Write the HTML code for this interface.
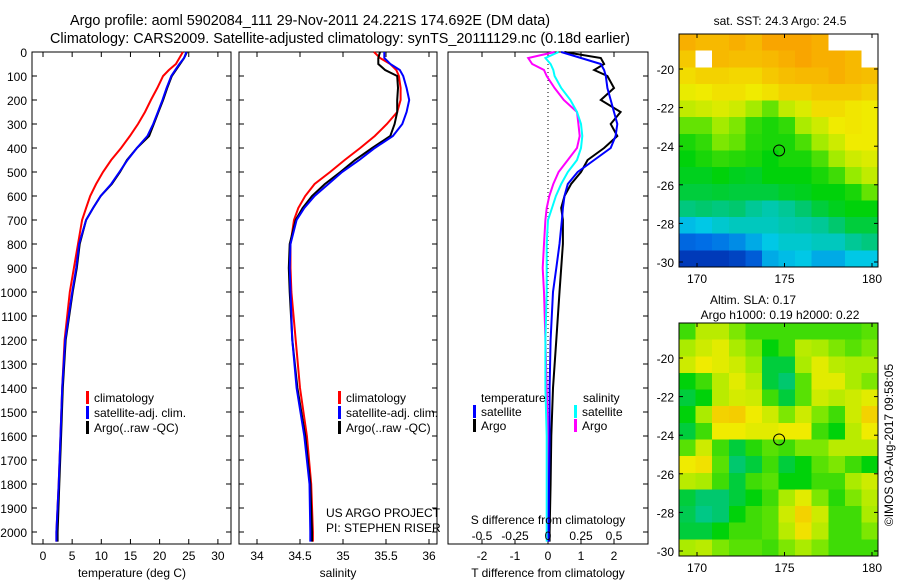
<!DOCTYPE html>
<html><head><meta charset="utf-8"><style>
body{margin:0;background:#fff;}
svg{display:block;font-family:"Liberation Sans",sans-serif;font-size:12px;}
</style></head><body>
<svg id="c" width="900" height="580" xmlns="http://www.w3.org/2000/svg">
<text x="310" y="25" text-anchor="middle" style="font-size:14.4px">Argo profile: aoml 5902084_111 29-Nov-2011 24.221S 174.692E (DM data)</text>
<text x="340" y="43" text-anchor="middle" style="font-size:14.4px">Climatology: CARS2009. Satellite-adjusted climatology: synTS_20111129.nc (0.18d earlier)</text>
</svg>
<script>
const depths=[0,25,50,75,100,150,200,250,300,350,400,450,500,550,600,650,700,800,900,1000,1200,1400,1600,1800,2000,2040];
const tArgo=[24.7,24.2,23.5,22.8,22.1,21.3,20.6,19.8,19.0,18.2,16.1,14.4,13.2,11.8,9.9,8.6,7.4,6.3,5.8,5.1,3.9,3.4,3.1,2.8,2.5,2.5];
const tSat=[24.6,24.2,23.4,22.7,22.0,21.2,20.5,19.7,18.9,17.9,16.1,14.5,13.1,11.7,9.9,8.6,7.4,6.2,5.7,5.0,3.8,3.3,3.0,2.7,2.3,2.3];
const tClim=[24.0,23.4,22.8,21.6,20.6,19.6,18.5,17.5,16.3,14.9,13.4,11.7,10.3,9.1,8.1,7.4,6.7,6.0,5.3,4.6,3.7,3.3,3.0,2.7,2.3,2.3];
const sArgo=[35.43,35.41,35.41,35.49,35.63,35.64,35.63,35.63,35.60,35.55,35.34,35.14,34.97,34.79,34.64,34.53,34.45,34.38,34.37,34.38,34.41,34.47,34.56,34.62,34.64,34.64];
const sSat=[35.48,35.48,35.55,35.66,35.70,35.74,35.77,35.74,35.69,35.58,35.37,35.19,34.99,34.83,34.67,34.55,34.46,34.39,34.38,34.39,34.41,34.46,34.55,34.61,34.62,34.62];
const sClim=[35.36,35.43,35.55,35.62,35.65,35.67,35.67,35.63,35.51,35.37,35.20,35.02,34.85,34.67,34.56,34.48,34.43,34.39,34.39,34.40,34.45,34.50,34.58,34.63,34.65,34.65];
const dtArgo=[0.5,1.6,1.7,1.4,1.8,2.0,1.6,2.2,1.9,2.1,1.7,1.2,1.0,0.7,0.5,0.4,0.45,0.45,0.4,0.35,0.25,0.15,0.1,0.08,0.05,0.05];
const dtSat=[0.4,1.0,1.6,1.7,1.75,1.8,1.9,2.0,2.1,2.05,1.9,1.4,0.9,0.6,0.5,0.45,0.42,0.35,0.25,0.15,0.08,0.05,0.05,0.03,0.02,0.02];
const dsSat=[0.08,-0.02,0.02,0.04,0.05,0.1,0.17,0.22,0.25,0.26,0.25,0.22,0.15,0.1,0.06,0.03,0.0,-0.01,-0.01,-0.01,-0.02,-0.02,-0.01,-0.01,-0.01,-0.01];
const dsArgo=[0.05,-0.15,-0.12,-0.03,-0.01,0.05,0.12,0.22,0.23,0.24,0.22,0.15,0.08,0.04,0.01,-0.01,-0.02,-0.03,-0.04,-0.03,-0.02,-0.01,0.0,0.0,0.0,0.0];
const depthTicks=[0,100,200,300,400,500,600,700,800,900,1000,1100,1200,1300,1400,1500,1600,1700,1800,1900,2000];
const tTicks=[0,5,10,15,20,25,30];
const sTicks=[34,34.5,35,35.5,36];
const dtTicks=[-2,-1,0,1,2];
const dsTicks=[-0.5,-0.25,0,0.25,0.5];
const dsTickLabels=["-0.5","-0.25","0","0.25","0.5"];
const sstGrid=[
[.97,.95,.95,.97,.95,.99,.99,.99,.97,-1,-1,-1],
[.92,-1,.95,.94,.94,.95,.97,.99,.97,.97,.95,-1],
[.88,.90,.90,.89,.89,.92,.94,.95,.95,.97,.95,.94],
[.84,.85,.87,.87,.85,.87,.90,.90,.92,.92,.92,.90],
[.78,.80,.82,.80,.74,.68,.78,.82,.88,.88,.86,.85],
[.68,.68,.74,.70,.64,.62,.64,.75,.80,.85,.86,.85],
[.62,.64,.70,.68,.63,.62,.62,.66,.74,.80,.85,.85],
[.60,.62,.64,.63,.62,.60,.62,.62,.66,.74,.80,.82],
[.58,.58,.60,.58,.57,.60,.60,.60,.62,.65,.72,.78],
[.55,.55,.56,.55,.55,.55,.57,.58,.60,.60,.62,.68],
[.48,.50,.48,.50,.45,.42,.45,.50,.55,.58,.60,.60],
[.33,.35,.38,.40,.40,.40,.42,.43,.45,.50,.55,.55],
[.18,.20,.22,.25,.30,.35,.38,.38,.40,.40,.45,.48],
[.05,.05,.05,.08,.15,.30,.33,.35,.30,.30,.35,.35]];
const slaGrid=[
[.6,.72,.72,.65,.6,.6,.6,.6,.6,.6,.6,.62],
[.7,.75,.78,.7,.65,.55,.6,.72,.7,.65,.62,.65],
[.75,.8,.78,.75,.68,.5,.5,.7,.78,.72,.7,.7],
[.55,.6,.72,.78,.72,.5,.45,.62,.78,.78,.7,.65],
[.5,.55,.72,.76,.75,.6,.5,.62,.75,.72,.75,.78],
[.55,.7,.85,.86,.8,.75,.65,.75,.65,.6,.75,.85],
[.5,.6,.8,.8,.78,.78,.8,.8,.6,.55,.72,.8],
[.62,.75,.6,.5,.58,.62,.6,.65,.65,.72,.72,.72],
[.8,.82,.62,.45,.5,.6,.5,.55,.62,.65,.6,.55],
[.72,.7,.6,.5,.6,.62,.55,.55,.6,.6,.7,.75],
[.5,.45,.45,.5,.55,.6,.7,.78,.65,.58,.65,.72],
[.48,.42,.45,.55,.6,.62,.75,.85,.75,.6,.6,.7],
[.5,.5,.55,.6,.6,.62,.72,.82,.72,.6,.6,.65],
[.7,.72,.65,.62,.62,.6,.65,.7,.65,.6,.6,.6]];
const lonTicks=[170,175,180];
const latTicks=[-20,-22,-24,-26,-28,-30];
const argoLon=174.692, argoLat=-24.221;

const NS="http://www.w3.org/2000/svg";
const svg=document.getElementById('c');
function mk(tag,attrs,parent){const e=document.createElementNS(NS,tag);for(const k in attrs)e.setAttribute(k,attrs[k]);(parent||svg).appendChild(e);return e;}
function txt(x,y,s,anchor,parent){const e=mk('text',{x:x,y:y,'text-anchor':anchor||'start'},parent);e.textContent=s;return e;}
const yD=d=>52+d*0.24;
const xT=t=>43+t*5.83;
const xS=s=>257+(s-34)*86;
const xDT=v=>548+v*33;
const xDS=v=>548+v*132;
const TOP=52,BOT=544;

function frame(x0,x1,name){
  const g=mk('g',{});
  
  
  mk('rect',{x:x0,y:TOP,width:x1-x0,height:BOT-TOP,fill:'none',stroke:'#000','stroke-width':1},g);
  return g;
}
function line(xs,fx,vals,color,name,g){
  const pts=vals.map((v,i)=>fx(v).toFixed(1)+','+yD(depths[i]).toFixed(1)).join(' ');
  const p=mk('polyline',{points:pts,fill:'none',stroke:color,'stroke-width':2},g);
  
  
}
const g1=frame(32,231,'temperature-panel');
depthTicks.forEach(d=>{const y=yD(d);mk('line',{x1:32,y1:y,x2:37,y2:y,stroke:'#000'},g1);mk('line',{x1:226,y1:y,x2:231,y2:y,stroke:'#000'},g1);
  const t=txt(27,y+5,String(d),'end',g1);});
tTicks.forEach(v=>{const x=xT(v);mk('line',{x1:x,y1:BOT,x2:x,y2:BOT-5,stroke:'#000'},g1);mk('line',{x1:x,y1:TOP,x2:x,y2:TOP+5,stroke:'#000'},g1);txt(x,560,String(v),'middle',g1);});
txt(132,577,'temperature (deg C)','middle',g1);
line(depths,xT,tClim,'#f00','temp-climatology-line',g1);
line(depths,xT,tArgo,'#000','temp-argo-line',g1);
line(depths,xT,tSat,'#00f','temp-satellite-line',g1);
const g2=frame(239,437,'salinity-panel');
depthTicks.forEach(d=>{const y=yD(d);mk('line',{x1:239,y1:y,x2:244,y2:y,stroke:'#000'},g2);mk('line',{x1:432,y1:y,x2:437,y2:y,stroke:'#000'},g2);});
sTicks.forEach(v=>{const x=xS(v);mk('line',{x1:x,y1:BOT,x2:x,y2:BOT-5,stroke:'#000'},g2);mk('line',{x1:x,y1:TOP,x2:x,y2:TOP+5,stroke:'#000'},g2);txt(x,560,String(v),'middle',g2);});
txt(338,577,'salinity','middle',g2);
line(depths,xS,sClim,'#f00','sal-climatology-line',g2);
line(depths,xS,sArgo,'#000','sal-argo-line',g2);
line(depths,xS,sSat,'#00f','sal-satellite-line',g2);
txt(326,517,'US ARGO PROJECT','start',g2);
txt(326,532,'PI: STEPHEN RISER','start',g2);
function leg(g,x,y,color,label){mk('rect',{x:x,y:y-11,width:3,height:13,fill:color},g);const t=txt(x+8,y,label,'start',g);return t;}
[[86,g1],[338,g2]].forEach(([x,g])=>{
  const lg=mk('g',{},g);
  leg(lg,x,402,'#f00','climatology');leg(lg,x,417,'#00f','satellite-adj. clim.');leg(lg,x,432,'#000','Argo(..raw -QC)');});
const g3=frame(448,648,'difference-panel');
depthTicks.forEach(d=>{const y=yD(d);mk('line',{x1:643,y1:y,x2:648,y2:y,stroke:'#000'},g3);});
mk('line',{x1:xDT(0),y1:TOP,x2:xDT(0),y2:BOT,stroke:'#000','stroke-dasharray':'1,3'},g3);
dtTicks.forEach(v=>{const x=xDT(v);mk('line',{x1:x,y1:BOT,x2:x,y2:BOT-5,stroke:'#000'},g3);mk('line',{x1:x,y1:TOP,x2:x,y2:TOP+5,stroke:'#000'},g3);txt(x,560,String(v),'middle',g3);});
line(depths,xDS,dsArgo,'#f0f','sdiff-argo-line',g3);
line(depths,xDS,dsSat,'#0ff','sdiff-satellite-line',g3);
line(depths,xDT,dtArgo,'#000','tdiff-argo-line',g3);
line(depths,xDT,dtSat,'#00f','tdiff-satellite-line',g3);
dsTicks.forEach((v,i)=>{txt(xDS(v),540,dsTickLabels[i],'middle',g3);});
txt(548,524,'S difference from climatology','middle',g3);
txt(548,577,'T difference from climatology','middle',g3);
const lg3=mk('g',{},g3);
txt(481,402,'temperature','start',lg3);txt(583,402,'salinity','start',lg3);
leg(lg3,473,416,'#00f','satellite');leg(lg3,473,430,'#000','Argo');
leg(lg3,574,416,'#0ff','satellite');leg(lg3,574,430,'#f0f','Argo');
function col(v){
  const stops=[[0,[0,40,170]],[0.2,[0,110,230]],[0.35,[0,200,230]],[0.5,[0,200,110]],[0.6,[0,210,10]],[0.72,[150,235,0]],[0.85,[240,235,0]],[1,[250,160,0]]];
  for(let i=1;i<stops.length;i++){if(v<=stops[i][0]){const [a,ca]=stops[i-1],[b,cb]=stops[i];const f=(v-a)/(b-a);return 'rgb('+ca.map((c,j)=>Math.round(c+(cb[j]-c)*f)).join(',')+')';}}
  return 'rgb(250,160,0)';
}
function map(top,grid,name,shift){
  const x0=679,x1=878,y0=top,y1=top+233;
  const g=mk('g',{});
  const cw=(x1-x0)/grid[0].length,ch=(y1-y0)/grid.length;
  grid.forEach((row,r)=>row.forEach((v,c)=>{const cell=mk('rect',{x:x0+c*cw,y:y0+r*ch,width:cw+0.5,height:ch+0.5,fill:v<0?'#fff':col(v+shift),'shape-rendering':'crispEdges'},g);
    }));
  mk('rect',{x:x0,y:y0,width:x1-x0,height:y1-y0,fill:'none',stroke:'#000'},g);
  const lx=lon=>697+(lon-170)*17.5, ly=lat=>top+35+(-20-lat)*19.3;
  lonTicks.forEach(l=>{const x=lx(l);mk('line',{x1:x,y1:y1,x2:x,y2:y1-4,stroke:'#000'},g);mk('line',{x1:x,y1:y0,x2:x,y2:y0+4,stroke:'#000'},g);txt(x,y1+16,String(l),'middle',g);});
  latTicks.forEach(l=>{const y=ly(l);mk('line',{x1:x0,y1:y,x2:x0+4,y2:y,stroke:'#000'},g);mk('line',{x1:x1,y1:y,x2:x1-4,y2:y,stroke:'#000'},g);txt(674,y+5,String(l),'end',g);});
  const m=mk('circle',{cx:lx(argoLon),cy:ly(argoLat),r:5.5,fill:'none',stroke:'#000'},g);
  
}
map(34,sstGrid,'sst-map',0);
map(323,slaGrid,'sla-map',0.05);
txt(780,25,'sat. SST: 24.3 Argo: 24.5','middle');
txt(710,304,'Altim. SLA: 0.17','start');
txt(780,319,'Argo h1000: 0.19 h2000: 0.22','middle');
const ts=txt(0,0,'©IMOS 03-Aug-2017 09:58:05','middle');ts.setAttribute('transform','translate(893,445) rotate(-90)');

</script>
</body></html>
